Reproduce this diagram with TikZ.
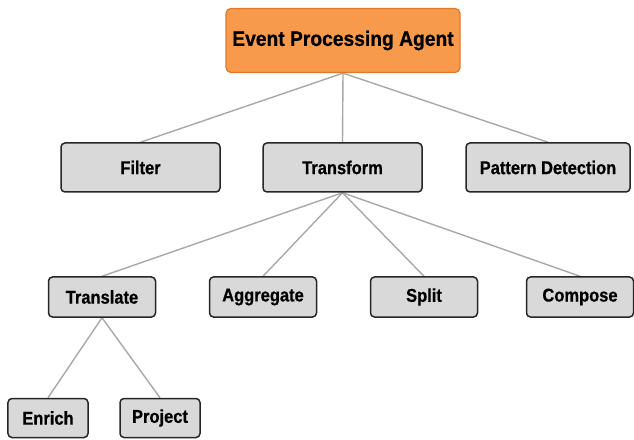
\documentclass[tikz,border=0pt]{standalone}
\usepackage{fontspec}
\setmainfont{Liberation Sans}[BoldFeatures={FakeBold=0.7}]
\usetikzlibrary{backgrounds}
\newcommand{\narrowA}[1]{\scalebox{0.92}[1]{#1}}
\newcommand{\narrowB}[1]{\scalebox{0.89}[1]{#1}}
\definecolor{orfill}{HTML}{F79A4B}
\definecolor{ordraw}{HTML}{E2782A}
\definecolor{gbox}{HTML}{D9D9D9}
\definecolor{gline}{HTML}{A8A8A8}
\tikzset{
  topbox/.style={draw=ordraw, fill=orfill, line width=1.3bp, rounded corners=5bp,
    minimum width=234bp, minimum height=64bp, inner sep=0pt,
    font=\fontsize{21}{24}\selectfont\bfseries},
  graybox/.style={draw=black!85, fill=gbox, line width=1.5bp, rounded corners=4bp,
    inner sep=0pt, font=\fontsize{18.6}{21}\selectfont\bfseries},
  midbox/.style={graybox, minimum height=49bp},
  lowbox/.style={graybox, minimum width=107bp, minimum height=40bp},
  leafbox/.style={graybox, minimum width=80bp, minimum height=39bp},
  link/.style={draw=gline, line width=1.4bp}
}
\begin{document}
\begin{tikzpicture}[x=1bp,y=-1bp]
\useasboundingbox (0,0) rectangle (634,440);
\node[topbox] (epa) at (343,40.5) {\narrowA{Event Processing Agent}};
\node[midbox, minimum width=159bp] (filter) at (140.5,167.5) {\narrowB{Filter}};
\node[midbox, minimum width=159bp] (transform) at (342.5,167.5) {\narrowB{Transform}};
\node[midbox, minimum width=164bp] (pattern) at (548,167.5) {\narrowB{Pattern Detection}};
\node[lowbox] (translate) at (102,297) {\narrowB{Translate}};
\node[lowbox] (aggregate) at (263,297) {\narrowB{Aggregate}};
\node[lowbox] (split) at (424,297) {\narrowB{Split}};
\node[lowbox] (compose) at (580,297) {\narrowB{Compose}};
\node[leafbox] (enrich) at (48,418) {\narrowB{Enrich}};
\node[leafbox] (project) at (160,418) {\narrowB{Project}};
\begin{pgfonlayer}{background}
\draw[link] (epa.south) -- (filter.north);
\draw[link] (epa.south) -- (transform.north);
\draw[link] (epa.south) -- (pattern.north);
\draw[link] (transform.south) -- (translate.north);
\draw[link] (transform.south) -- (aggregate.north);
\draw[link] (transform.south) -- (split.north);
\draw[link] (transform.south) -- (compose.north);
\draw[link] (translate.south) -- (enrich.north);
\draw[link] (translate.south) -- (project.north);
\end{pgfonlayer}
\end{tikzpicture}
\end{document}
